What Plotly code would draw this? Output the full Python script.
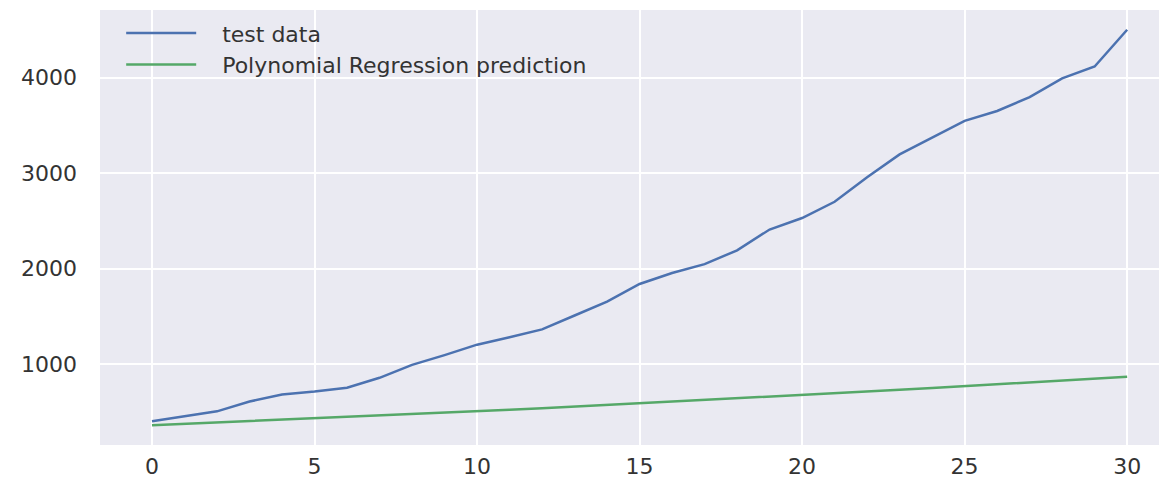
import plotly.graph_objects as go

# day index 0..30
days = list(range(31))

test_data = [403, 455, 507, 610, 683, 714, 755, 858, 993, 1096,
             1205, 1282, 1365, 1510, 1655, 1840, 1955, 2048, 2192, 2410,
             2530, 2700, 2958, 3196, 3371, 3547, 3650, 3795, 3992, 4116,
             4500]

poly_pred = [362, 376, 390, 404, 419, 434, 448, 462, 477, 492,
             507, 523, 539, 556, 573, 590, 607, 624, 641, 658,
             675, 694, 713, 732, 751, 770, 790, 811, 832, 853,
             870]

x_ticks = [0, 5, 10, 15, 20, 25, 30]
y_ticks = [1000, 2000, 3000, 4000]

font = "DejaVu Sans"
text_col = "#333333"
pad = "\u00a0\u00a0\u00a0"  # gap between legend line and label

fig = go.Figure()
fig.add_trace(go.Scatter(x=days, y=test_data, mode="lines",
                         name=pad + "test data",
                         line=dict(color="#4C72B0", width=2.5)))
fig.add_trace(go.Scatter(x=days, y=poly_pred, mode="lines",
                         name=pad + "Polynomial Regression prediction",
                         line=dict(color="#55A868", width=2.5)))

# page has an 8px body margin, so the figure is kept a bit smaller
fig.update_layout(
    width=1151, height=471,
    margin=dict(l=92, r=0, t=2, b=28),
    paper_bgcolor="white",
    plot_bgcolor="#EAEAF2",
    font=dict(family=font, size=22, color=text_col),
    showlegend=True,
    legend=dict(x=0.02, y=0.995, xanchor="left", yanchor="top",
                bgcolor="rgba(0,0,0,0)", itemwidth=70,
                tracegroupgap=0, font=dict(size=22)),
)
fig.update_xaxes(range=[-1.6, 30.98], tickvals=x_ticks,
                 showgrid=True, gridcolor="white", gridwidth=2,
                 zeroline=False, showline=False, ticks="",
                 ticklabelstandoff=6)
fig.update_yaxes(range=[155, 4707], tickvals=y_ticks,
                 showgrid=True, gridcolor="white", gridwidth=2,
                 zeroline=False, showline=False, ticks="",
                 ticklabelstandoff=22)

fig.write_html("out.html")
